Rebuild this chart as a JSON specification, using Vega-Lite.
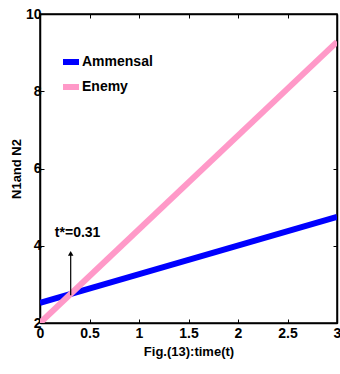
{
  "$schema": "https://vega.github.io/schema/vega-lite/v6.json",
  "width": 297,
  "height": 309,
  "autosize": {"type": "none"},
  "padding": {"left": 40, "top": 14, "right": 3, "bottom": 51},
  "background": "white",
  "config": {
    "view": {"stroke": "black", "strokeWidth": 1.5},
    "font": "Liberation Sans",
    "axis": {
      "domain": true, "domainColor": "black", "domainWidth": 1.5,
      "grid": false, "tickColor": "black", "tickSize": -4, "tickWidth": 1,
      "labelFont": "Liberation Sans", "labelFontWeight": "bold", "labelFontSize": 14, "labelColor": "black",
      "titleFont": "Liberation Sans", "titleFontWeight": "bold", "titleFontSize": 13, "titleColor": "black"
    }
  },
  "datasets": {
    "lines": [
      {"t": 0, "value": 2.52, "series": "Ammensal"},
      {"t": 3, "value": 4.75, "series": "Ammensal"},
      {"t": 0, "value": 2.0, "series": "Enemy"},
      {"t": 3, "value": 9.28, "series": "Enemy"}
    ],
    "arrow": [
      {"t": 0.31, "y1": 2.72, "y2": 3.8}
    ],
    "note": [
      {"t": 0.15, "value": 4.33, "label": "t*=0.31"}
    ]
  },
  "layer": [
    {
      "data": {"name": "lines"},
      "mark": {"type": "line", "strokeWidth": 6, "clip": true},
      "encoding": {
        "x": {"field": "t", "type": "quantitative", "scale": {"domain": [0, 3], "nice": false, "zero": false},
              "axis": {"values": [0, 0.5, 1, 1.5, 2, 2.5, 3], "labelExpr": "datum.value + ''", "title": "Fig.(13):time(t)", "titlePadding": 5, "labelPadding": 7, "labelFlush": false}},
        "y": {"field": "value", "type": "quantitative", "scale": {"domain": [2, 10], "nice": false, "zero": false},
              "axis": {"values": [2, 4, 6, 8, 10], "labelExpr": "datum.value + ''", "title": "N1and N2", "titlePadding": 2, "labelPadding": 3}},
        "color": {"field": "series", "type": "nominal",
                  "scale": {"domain": ["Ammensal", "Enemy"], "range": ["#0000ff", "#ff99c8"]},
                  "legend": {"title": null, "orient": "none", "legendX": 20, "legendY": 37, "padding": 0,
                             "symbolType": "stroke", "symbolStrokeWidth": 6, "symbolSize": 256,
                             "labelFont": "Liberation Sans", "labelFontWeight": "bold", "labelFontSize": 14,
                             "labelColor": "black", "labelOffset": 0, "rowPadding": 1}}
      }
    },
    {
      "data": {"name": "lines"},
      "mark": {"type": "line", "opacity": 0},
      "encoding": {
        "x": {"field": "t", "type": "quantitative", "scale": {"domain": [0, 3], "nice": false, "zero": false},
              "axis": {"orient": "top", "values": [0, 0.5, 1, 1.5, 2, 2.5, 3], "labels": false, "title": null}},
        "y": {"field": "value", "type": "quantitative", "scale": {"domain": [2, 10], "nice": false, "zero": false},
              "axis": {"orient": "right", "values": [2, 4, 6, 8, 10], "labels": false, "title": null}}
      }
    },
    {
      "data": {"name": "arrow"},
      "mark": {"type": "rule", "color": "black", "strokeWidth": 1.2},
      "encoding": {
        "x": {"field": "t", "type": "quantitative", "axis": null},
        "y": {"field": "y1", "type": "quantitative", "axis": null},
        "y2": {"field": "y2"}
      }
    },
    {
      "data": {"name": "arrow"},
      "mark": {"type": "point", "shape": "triangle-up", "filled": true, "color": "black", "size": 30, "opacity": 1},
      "encoding": {
        "x": {"field": "t", "type": "quantitative", "axis": null},
        "y": {"field": "y2", "type": "quantitative", "axis": null}
      }
    },
    {
      "data": {"name": "note"},
      "mark": {"type": "text", "align": "left", "baseline": "middle", "font": "Liberation Sans", "fontWeight": "bold", "fontSize": 14, "color": "black"},
      "encoding": {
        "x": {"field": "t", "type": "quantitative", "axis": null},
        "y": {"field": "value", "type": "quantitative", "axis": null},
        "text": {"field": "label"}
      }
    }
  ],
  "resolve": {"axis": {"x": "independent", "y": "independent"}}
}
